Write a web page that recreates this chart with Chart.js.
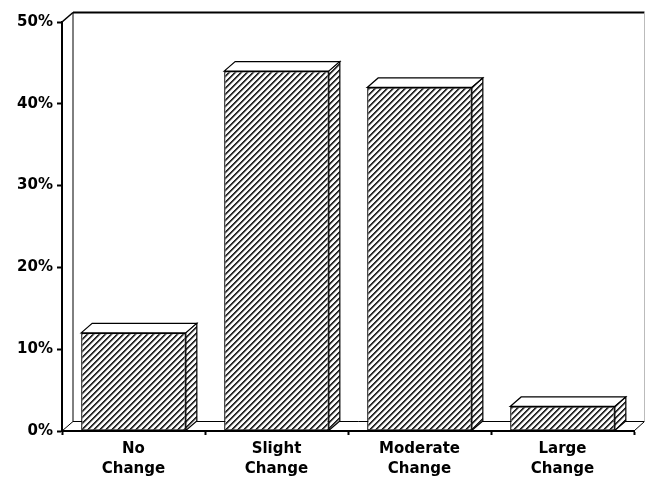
<!DOCTYPE html>
<html>
<head>
<meta charset="utf-8">
<script src="https://cdn.jsdelivr.net/npm/chart.js@4/dist/chart.umd.min.js"></script>
<style>
  html, body { margin: 0; padding: 0; background: #fff; }
  #wrap { width: 645px; height: 477px; position: relative; }
</style>
</head>
<body>
<div id="wrap"><canvas id="chart"></canvas></div>
<script>
// Share of responses by amount of change
const categories = [["No", "Change"], ["Slight", "Change"], ["Moderate", "Change"], ["Large", "Change"]];
const shares = [12, 44, 42, 3];
const yTicks = [0, 10, 20, 30, 40, 50];

// depth offset of the pseudo-3D box
const DX = 11, DY = -9.5;
const FONT = "'DejaVu Sans', 'Liberation Sans', Arial, sans-serif";

// diagonal "/" hatch tile
function hatchTile() {
  const shade = [30, 55, 165, 250, 255, 240];
  const n = shade.length;
  const c = document.createElement('canvas');
  c.width = n; c.height = n;
  const g = c.getContext('2d');
  const img = g.createImageData(n, n);
  for (let y = 0; y < n; y++) {
    for (let x = 0; x < n; x++) {
      const v = shade[(x + y) % n];
      const i = (y * n + x) * 4;
      img.data[i] = img.data[i + 1] = img.data[i + 2] = v;
      img.data[i + 3] = 255;
    }
  }
  g.putImageData(img, 0, 0);
  return c;
}

const canvas = document.getElementById('chart');
const hatch = canvas.getContext('2d').createPattern(hatchTile(), 'repeat');

function seg(ctx, x1, y1, x2, y2) {
  ctx.beginPath(); ctx.moveTo(x1, y1); ctx.lineTo(x2, y2); ctx.stroke();
}

const box3d = {
  id: 'box3d',
  beforeDatasetsDraw(chart) {
    const { ctx, width } = chart;
    const { left, right, top, bottom } = chart.chartArea;
    const rx = Math.min(right + DX, width - 0.5);
    ctx.save();
    ctx.strokeStyle = '#000';
    ctx.lineWidth = 1;
    // side wall
    seg(ctx, left + DX, top + DY, left + DX, bottom + DY);
    seg(ctx, left, bottom, left + DX, bottom + DY);
    ctx.lineWidth = 1.6;
    seg(ctx, left, top, left + DX, top + DY);
    ctx.lineWidth = 1;
    // floor
    seg(ctx, left + DX, bottom + DY, rx, bottom + DY);
    seg(ctx, right, bottom, rx, bottom + DY);
    // back wall
    ctx.lineWidth = 2;
    seg(ctx, left + DX, top + DY, rx, top + DY);
    ctx.lineWidth = 1;
    ctx.strokeStyle = '#bbb';
    seg(ctx, rx, top + DY, rx, bottom + DY);
    ctx.restore();
  },
  afterDatasetsDraw(chart) {
    const { ctx } = chart;
    ctx.save();
    ctx.strokeStyle = '#000';
    ctx.lineWidth = 1.2;
    ctx.lineJoin = 'miter';
    chart.getDatasetMeta(0).data.forEach(bar => {
      const l = bar.x - bar.width / 2, r = bar.x + bar.width / 2;
      const t = bar.y, b = bar.base;
      // top face
      ctx.beginPath();
      ctx.moveTo(l, t); ctx.lineTo(l + DX, t + DY); ctx.lineTo(r + DX, t + DY); ctx.lineTo(r, t);
      ctx.closePath();
      ctx.fillStyle = '#fff'; ctx.fill(); ctx.stroke();
      // side face
      ctx.beginPath();
      ctx.moveTo(r, t); ctx.lineTo(r + DX, t + DY); ctx.lineTo(r + DX, b + DY); ctx.lineTo(r, b);
      ctx.closePath();
      ctx.fillStyle = hatch; ctx.fill(); ctx.stroke();
    });
    ctx.restore();
  }
};

new Chart(canvas, {
  type: 'bar',
  data: {
    labels: categories,
    datasets: [{
      data: shares,
      backgroundColor: hatch,
      borderColor: '#000',
      borderWidth: 1.3,
      borderSkipped: false,
      categoryPercentage: 1,
      barPercentage: 0.732
    }]
  },
  options: {
    responsive: true,
    maintainAspectRatio: false,
    animation: false,
    devicePixelRatio: 1,
    layout: { padding: { top: 22, right: 11, left: 0, bottom: 0 } },
    plugins: { legend: { display: false }, tooltip: { enabled: false } },
    scales: {
      x: {
        grid: { offset: true, drawOnChartArea: false, drawTicks: true, tickLength: 4, tickWidth: 2, tickColor: '#000' },
        border: { display: true, color: '#000', width: 2 },
        ticks: { color: '#000', maxRotation: 0, autoSkip: false, padding: 4,
                 font: { family: FONT, size: 15, weight: 'bold', lineHeight: 1.33 } },
        afterFit(s) { s.height = 46; }
      },
      y: {
        min: 0, max: 50,
        grid: { drawOnChartArea: false, drawTicks: true, tickLength: 5, tickWidth: 2, tickColor: '#000' },
        border: { display: true, color: '#000', width: 2 },
        ticks: { color: '#000', padding: 4, callback: v => v + '%',
                 font: { family: FONT, size: 15, weight: 'bold' } },
        afterBuildTicks(s) { s.ticks = yTicks.map(v => ({ value: v })); },
        afterFit(s) { s.width = 62; }
      }
    }
  },
  plugins: [box3d]
});
</script>
</body>
</html>
